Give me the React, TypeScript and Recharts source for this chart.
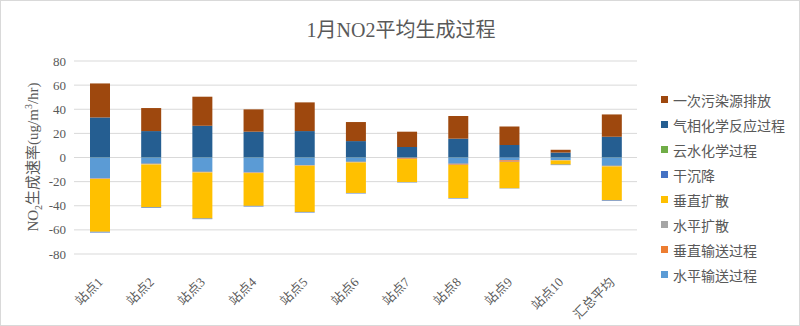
import React from 'react'
import { BarChart, Bar, XAxis, YAxis, CartesianGrid } from 'recharts'

const categories = ['站点1', '站点2', '站点3', '站点4', '站点5', '站点6', '站点7', '站点8', '站点9', '站点10', '汇总平均']

// stack order from the zero line outward (Excel series 1..8)
const horizontalTransport = [-17.4, -5.2, -11.9, -12.4, -6.4, -3.6, -0.3, -5.2, -2.2, -2.1, -6.9]
const verticalTransport = [-0.3, -0.3, -0.3, -0.3, -0.3, -0.3, -0.8, -0.8, -1.4, -0.2, -0.3]
const horizontalDiffusion = [-0.2, -0.2, -0.2, -0.2, -0.2, -0.2, -0.2, -0.2, -0.2, -0.2, -0.2]
const verticalDiffusion = [-43.7, -35.5, -38.2, -27.2, -38.2, -25.3, -19.1, -27.4, -21.6, -3.4, -28.0]
const dryDeposition = [-0.6, -0.5, -0.5, -0.5, -0.5, -0.4, -0.3, -0.4, -0.3, -0.4, -0.5]
const cloudChemistry = [0.1, 0.1, 0.1, 0.1, 0.1, 0.1, 0.1, 0.1, 0.1, 0.1, 0.1]
const gasChemistry = [33.1, 21.8, 26.2, 21.3, 21.8, 13.5, 8.6, 15.5, 10.2, 4.0, 17.1]
const primaryEmission = [28.2, 19.1, 24.1, 18.5, 23.8, 15.8, 12.7, 18.8, 15.5, 2.3, 18.5]

const yTicks = [80, 60, 40, 20, 0, -20, -40, -60, -80]

const series = [
  { key: 'ht', name: '水平输送过程', color: '#5B9BD5', values: horizontalTransport },
  { key: 'vt', name: '垂直输送过程', color: '#ED7D31', values: verticalTransport },
  { key: 'hd', name: '水平扩散', color: '#A5A5A5', values: horizontalDiffusion },
  { key: 'vd', name: '垂直扩散', color: '#FFC000', values: verticalDiffusion },
  { key: 'dd', name: '干沉降', color: '#4472C4', values: dryDeposition },
  { key: 'cc', name: '云水化学过程', color: '#70AD47', values: cloudChemistry },
  { key: 'gc', name: '气相化学反应过程', color: '#255E91', values: gasChemistry },
  { key: 'pe', name: '一次污染源排放', color: '#9E480E', values: primaryEmission },
]

const data = categories.map((name, i) => {
  const row: Record<string, number | string> = { name }
  series.forEach(s => { row[s.key] = s.values[i] })
  return row
})

const FONT = "'Liberation Serif', 'Noto Sans CJK SC', serif"
const TEXT = '#595959'

function XTick({ x, y, payload }: any) {
  const tx = x + 4
  const ty = y + 21
  return (
    <text x={tx} y={ty} transform={`rotate(-45, ${tx}, ${ty})`} textAnchor="end"
      fontSize={13} fill={TEXT} fontFamily={FONT}>
      {payload.value}
    </text>
  )
}

export default function App() {
  return (
    <div style={{ position: 'absolute', left: 0, top: 0, width: 800, height: 326, background: '#fff',
      boxSizing: 'border-box', border: '1px solid #d9d9d9', fontFamily: FONT }}>
      <div style={{ position: 'absolute', left: 0, top: 13, width: 800, textAlign: 'center', fontSize: 20, color: TEXT }}>
        1月NO2平均生成过程
      </div>
      <div style={{ position: 'absolute', left: -1, top: -1 }}>
        <BarChart width={800} height={326} data={data} stackOffset="sign" barSize={20}
          margin={{ top: 61, right: 163, bottom: 2, left: 0 }}>
          <CartesianGrid vertical={false} stroke="#d9d9d9" />
          <XAxis dataKey="name" height={70} axisLine={false} tickLine={false} interval={0} tick={<XTick />} />
          <YAxis width={74} domain={[-80, 80]} ticks={yTicks} axisLine={false} tickLine={false}
            tick={{ fontSize: 13, fill: TEXT, fontFamily: FONT }}
            label={{
              content: () => (
                <text x={38} y={157} transform="rotate(-90, 38, 157)" textAnchor="middle"
                  fontSize={15} fill={TEXT} fontFamily={FONT}>
                  NO<tspan fontSize={10} dy={4}>2</tspan><tspan dy={-4}>生成速率(ug/m</tspan>
                  <tspan fontSize={10} dy={-6}>3</tspan><tspan dy={6}>/hr)</tspan>
                </text>
              ),
            }} />
          {series.map(s => (
            <Bar key={s.key} dataKey={s.key} name={s.name} stackId="a" fill={s.color} isAnimationActive={false} />
          ))}
        </BarChart>
      </div>
      <div style={{ position: 'absolute', left: 660, top: 86 }}>
        {[...series].reverse().map(s => (
          <div key={s.key} style={{ display: 'flex', alignItems: 'center', height: 25, fontSize: 14, color: TEXT }}>
            <span style={{ width: 7, height: 7, background: s.color, marginRight: 5, display: 'inline-block' }} />
            {s.name}
          </div>
        ))}
      </div>
    </div>
  )
}
